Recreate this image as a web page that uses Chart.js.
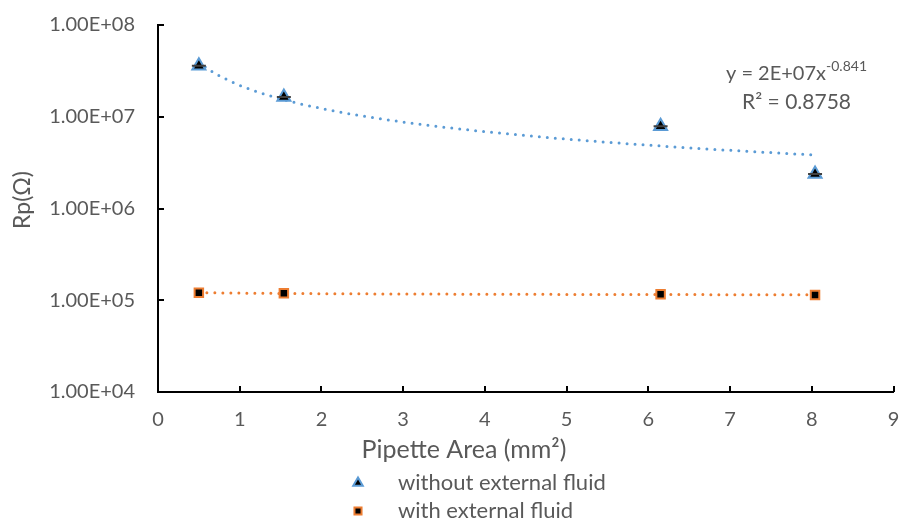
<!DOCTYPE html>
<html>
<head>
<meta charset="utf-8">
<script src="https://cdn.jsdelivr.net/npm/chart.js@4"></script>
<style>
  html, body { margin: 0; padding: 0; background: #fff; }
  #wrap { width: 903px; height: 520px; }
</style>
</head>
<body>
<div id="wrap"><canvas id="chart" width="903" height="520"></canvas></div>
<script>
// data
const areas = [0.5, 1.54, 6.15, 8.04];
const withoutFluid = [3.6e7, 1.64e7, 7.9e6, 2.38e6];
const withFluid = [1.21e5, 1.19e5, 1.16e5, 1.14e5];
const yTicks = [1e4, 1e5, 1e6, 1e7, 1e8];
const xTicks = [0, 1, 2, 3, 4, 5, 6, 7, 8, 9];
const seriesNames = ['without external fluid', 'with external fluid'];
const xTitle = 'Pipette Area (mm²)';
const yTitle = 'Rp(Ω)';

const textColor = '#595959';
const fontFamily = 'Lato, "Open Sans", sans-serif';
const blue = '#5B9BD5';
const orange = '#ED7D31';

// power trendline (least squares on log-log), like Excel's
function powerFit(xs, ys) {
  const lx = xs.map(Math.log), ly = ys.map(Math.log);
  const n = xs.length;
  const mx = lx.reduce((a, b) => a + b) / n;
  const my = ly.reduce((a, b) => a + b) / n;
  let sxy = 0, sxx = 0;
  for (let i = 0; i < n; i++) {
    sxy += (lx[i] - mx) * (ly[i] - my);
    sxx += (lx[i] - mx) * (lx[i] - mx);
  }
  const b = sxy / sxx;
  const a = Math.exp(my - b * mx);
  const lo = Math.min(...xs), hi = Math.max(...xs);
  const pts = [];
  for (let i = 0; i <= 80; i++) {
    const x = lo + (hi - lo) * i / 80;
    pts.push({ x: x, y: a * Math.pow(x, b) });
  }
  return pts;
}

const toPoints = (xs, ys) => xs.map((x, i) => ({ x: x, y: ys[i] }));

// inward tick marks, as in the original
const tickMarks = {
  id: 'tickMarks',
  afterDraw(chart) {
    const { ctx, chartArea, scales } = chart;
    ctx.save();
    ctx.strokeStyle = '#000';
    ctx.lineWidth = 2;
    ctx.beginPath();
    xTicks.forEach(v => {
      const px = Math.round(scales.x.getPixelForValue(v));
      ctx.moveTo(px, chartArea.bottom);
      ctx.lineTo(px, chartArea.bottom - 6);
    });
    yTicks.forEach(v => {
      const py = Math.round(scales.y.getPixelForValue(v));
      ctx.moveTo(chartArea.left, py);
      ctx.lineTo(chartArea.left + 6, py);
    });
    ctx.stroke();
    ctx.restore();
  }
};

// axis titles, trendline equation and legend
const annotations = {
  id: 'annotations',
  afterDraw(chart) {
    const ctx = chart.ctx;
    ctx.save();
    ctx.fillStyle = textColor;
    ctx.textBaseline = 'middle';

    // axis titles
    ctx.textAlign = 'center';
    ctx.font = '25px ' + fontFamily;
    ctx.fillText(xTitle, 464, 450);
    ctx.save();
    ctx.translate(23, 200);
    ctx.rotate(-Math.PI / 2);
    ctx.font = '23px ' + fontFamily;
    ctx.fillText(yTitle, 0, 0);
    ctx.restore();

    // equation
    const main = 'y = 2E+07x';
    ctx.font = '14px ' + fontFamily;
    const supW = ctx.measureText('-0.841').width;
    ctx.font = '20px ' + fontFamily;
    const mainW = ctx.measureText(main).width;
    const right = 867;
    ctx.textAlign = 'left';
    ctx.fillText(main, right - supW - mainW, 74);
    ctx.font = '14px ' + fontFamily;
    ctx.fillText('-0.841', right - supW, 66);
    ctx.font = '21px ' + fontFamily;
    ctx.textAlign = 'right';
    ctx.fillText('R² = 0.8758', 851, 102);

    // legend
    const items = [
      { style: 'triangle', color: blue, r: 5.5, y: 483 },
      { style: 'rect', color: orange, r: 5, y: 511 }
    ];
    items.forEach((it, i) => {
      ctx.fillStyle = '#000';
      ctx.strokeStyle = it.color;
      ctx.lineWidth = 2;
      Chart.helpers.drawPoint(ctx, { pointStyle: it.style, radius: it.r, rotation: 0, borderWidth: 2 }, 358, it.y);
      ctx.fillStyle = textColor;
      ctx.textAlign = 'left';
      ctx.font = '22px ' + fontFamily;
      ctx.fillText(seriesNames[i], 398, it.y);
    });
    ctx.restore();
  }
};

new Chart(document.getElementById('chart'), {
  type: 'scatter',
  data: {
    datasets: [
      {
        label: 'caps',
        data: toPoints(areas, withoutFluid),
        pointStyle: 'line',
        pointRadius: 7,
        borderColor: '#404040',
        pointBorderWidth: 2,
        showLine: false
      },
      {
        label: seriesNames[0],
        data: toPoints(areas, withoutFluid),
        pointStyle: 'triangle',
        pointRadius: 7.5,
        backgroundColor: '#000',
        borderColor: blue,
        pointBorderWidth: 2,
        showLine: false
      },
      {
        label: seriesNames[1],
        data: toPoints(areas, withFluid),
        pointStyle: 'rect',
        pointRadius: 6,
        backgroundColor: '#000',
        borderColor: orange,
        pointBorderWidth: 2,
        showLine: false
      },
      {
        label: 'trend 1',
        data: powerFit(areas, withoutFluid),
        showLine: true,
        pointRadius: 0,
        borderColor: blue,
        borderWidth: 3,
        borderDash: [0, 8],
        borderCapStyle: 'round',
        tension: 0
      },
      {
        label: 'trend 2',
        data: powerFit(areas, withFluid),
        showLine: true,
        pointRadius: 0,
        borderColor: orange,
        borderWidth: 3,
        borderDash: [0, 8],
        borderCapStyle: 'round',
        tension: 0
      }
    ]
  },
  options: {
    responsive: false,
    animation: false,
    layout: { padding: { top: 25, right: 7, left: 0, bottom: 0 } },
    plugins: {
      legend: { display: false },
      tooltip: { enabled: false }
    },
    scales: {
      x: {
        type: 'linear',
        min: 0,
        max: 9,
        afterFit: s => { s.height = 128; s.paddingLeft = 0; s.paddingRight = 0; },
        afterBuildTicks: s => { s.ticks = xTicks.map(v => ({ value: v })); },
        grid: { display: false, drawTicks: false },
        border: { display: true, color: '#000', width: 2 },
        ticks: {
          padding: 16,
          color: textColor,
          font: { family: fontFamily, size: 20 },
          callback: v => String(v)
        },
        title: { display: false }
      },
      y: {
        type: 'logarithmic',
        min: 1e4,
        max: 1e8,
        afterFit: s => { s.width = 158; s.paddingTop = 0; s.paddingBottom = 0; },
        afterBuildTicks: s => { s.ticks = yTicks.map(v => ({ value: v })); },
        grid: { display: false, drawTicks: false },
        border: { display: true, color: '#000', width: 2 },
        ticks: {
          padding: 23,
          color: textColor,
          font: { family: fontFamily, size: 20 },
          callback: v => Number(v).toExponential(2).toUpperCase().replace(/E([+-])(\d)$/, 'E$10$2')
        },
        title: { display: false }
      }
    }
  },
  plugins: [tickMarks, annotations]
});
</script>
</body>
</html>
